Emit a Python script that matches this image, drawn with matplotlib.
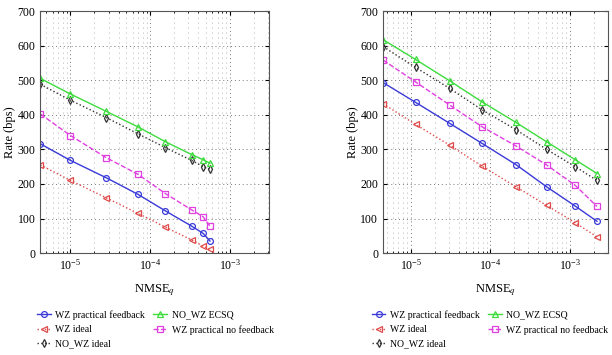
import matplotlib
matplotlib.use("Agg")
import matplotlib.pyplot as plt
import numpy as np

plt.rcParams['font.family'] = ['Liberation Serif', 'DejaVu Serif']
plt.rcParams['mathtext.fontset'] = 'stix'

# left panel
x_left = [4.2e-6, 1.0e-5, 2.8e-5, 7.0e-5, 1.55e-4, 3.3e-4, 4.6e-4, 5.6e-4]
left_fb = [316, 268, 218, 170, 122, 78, 57, 35]
left_wz_ideal = [255, 210, 160, 115, 75, 38, 20, 12]
left_nowz_ideal = [488, 442, 392, 345, 305, 268, 250, 242]
left_ecsq = [505, 460, 410, 365, 322, 285, 270, 260]
left_nofb = [402, 340, 276, 228, 172, 125, 105, 78]

# right panel
x_right = [4.5e-6, 1.15e-5, 3.1e-5, 7.8e-5, 2.1e-4, 5.1e-4, 1.17e-3, 2.2e-3]
right_fb = [493, 436, 375, 318, 256, 192, 136, 92]
right_wz_ideal = [432, 372, 312, 252, 192, 138, 88, 47]
right_nowz_ideal = [597, 537, 476, 415, 357, 300, 250, 210]
right_ecsq = [617, 560, 498, 438, 378, 322, 270, 230]
right_nofb = [558, 495, 428, 366, 310, 255, 196, 135]

labels = ['WZ practical feedback', 'WZ ideal', 'NO_WZ ideal',
          'NO_WZ ECSQ', 'WZ practical no feedback']
styles = [
    dict(color='#3a3ad8', ls='-', marker='o', mfc='none'),
    dict(color='#e04a4a', ls=':', marker='<', mfc='none'),
    dict(color='#333333', ls=':', marker='d', mfc='none'),
    dict(color='#3ddc3d', ls='-', marker='^', mfc='none'),
    dict(color='#e040e0', ls='--', marker='s', mfc='none'),
]

fig = plt.figure(figsize=(6.12, 3.55), dpi=100)
ax1 = fig.add_axes([0.066, 0.287, 0.374, 0.682])
ax2 = fig.add_axes([0.626, 0.287, 0.367, 0.682])

panels = [
    (ax1, x_left, [left_fb, left_wz_ideal, left_nowz_ideal, left_ecsq, left_nofb], -0.015),
    (ax2, x_right, [right_fb, right_wz_ideal, right_nowz_ideal, right_ecsq, right_nofb], -0.05),
]

for ax, xs, series, lx in panels:
    for ys, lab, st in zip(series, labels, styles):
        ax.plot(xs, ys, label=lab, lw=1.0, ms=4.2, mew=0.9, **st)
    ax.set_xscale('log')
    ax.set_xlim(4.2e-6, 3.1e-3)
    ax.set_ylim(0, 700)
    ax.set_yticks(np.arange(0, 701, 100))
    ax.set_xticks([1e-5, 1e-4, 1e-3])
    ax.grid(True, which='major', ls=(0, (1, 3)), color='#777777', lw=0.7)
    ax.grid(True, which='minor', axis='x', ls=(0, (1, 5)), color='#9a9a9a', lw=0.6)
    ax.tick_params(which='both', direction='in', top=True, right=True, labelsize=8.5)
    ax.tick_params(which='major', length=3)
    ax.tick_params(which='minor', length=1.5)
    for s in ax.spines.values():
        s.set_color('#555555')
        s.set_linewidth(0.8)
    ax.set_xlabel(r'NMSE$_q$', fontsize=9, labelpad=7)
    ax.set_ylabel('Rate (bps)', fontsize=9, labelpad=1)
    ax.legend(ncol=2, loc='upper left', bbox_to_anchor=(lx, -0.235),
              frameon=False, fontsize=7, handlelength=1.4, handletextpad=0.5,
              columnspacing=0.8, labelspacing=0.55, borderaxespad=0,
              borderpad=0)

ax2.set_xlim(4.5e-6, 3.0e-3)

fig.savefig('out.png', dpi=100)
